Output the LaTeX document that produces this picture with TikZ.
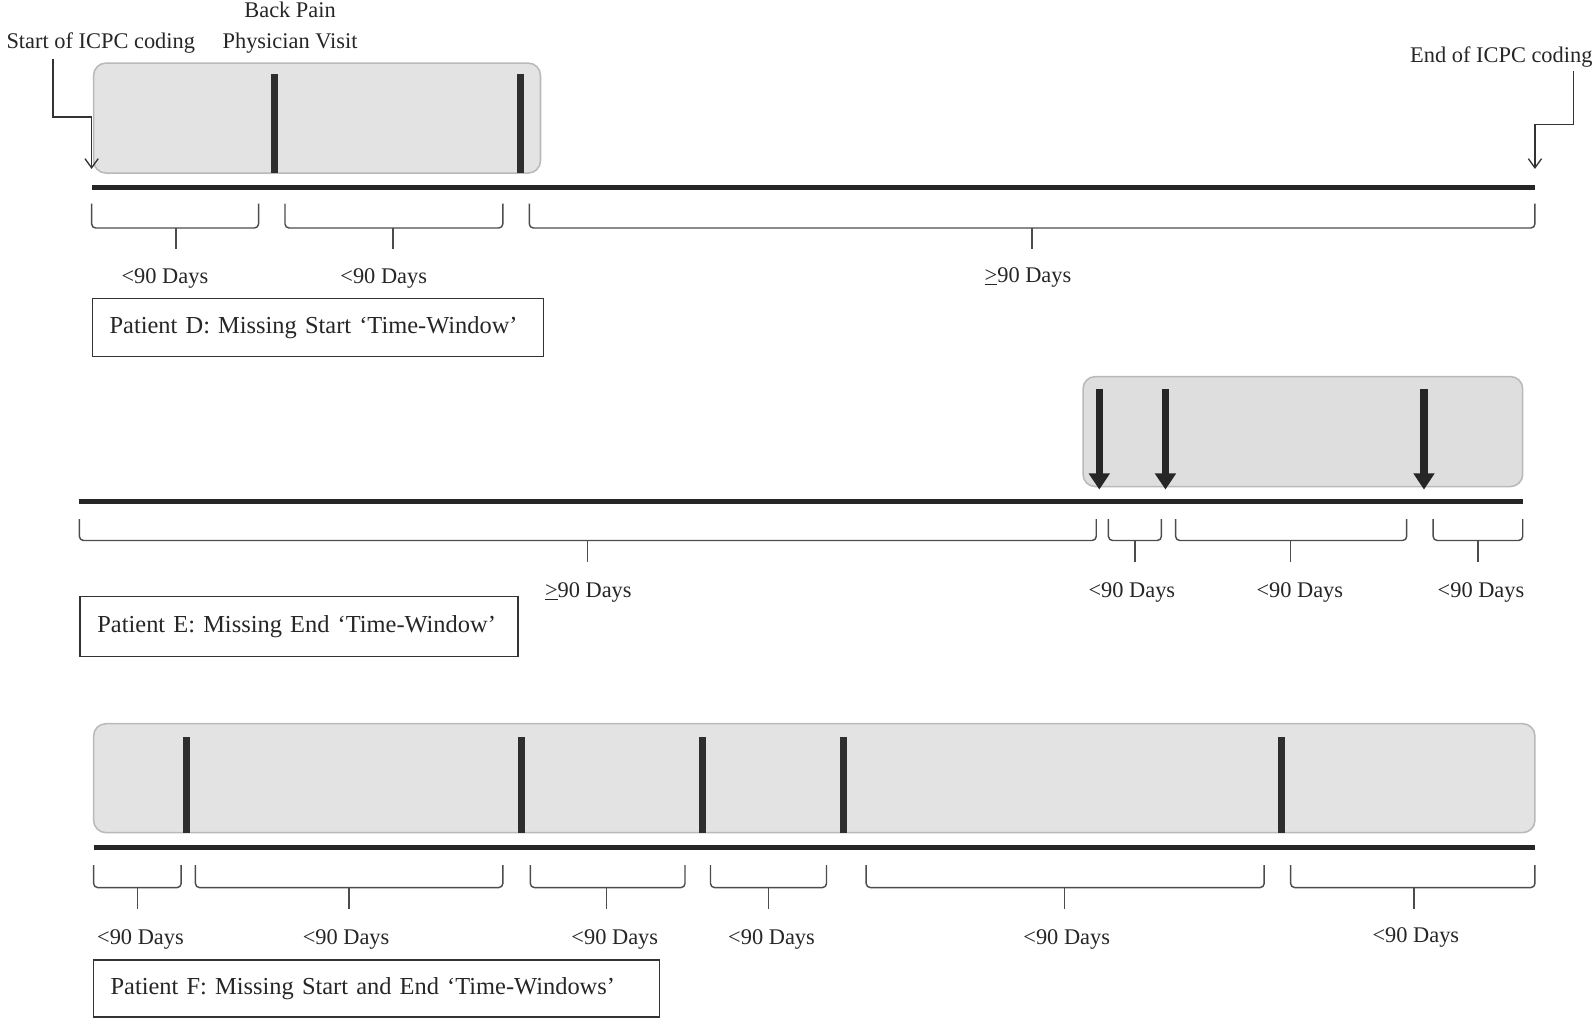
\documentclass[tikz,border=0pt]{standalone}
\usepackage{fontspec}
\setmainfont{Liberation Serif}
\usetikzlibrary{arrows.meta}
\newcommand\tlbrace[6]{% x1, x2, xc, ytop, ybot, ytip
  \draw[brace] (#1,#4) -- (#1,#5) -- (#2,#5) -- (#2,#4);
  \draw[brace] (#3,#5) -- (#3,#6);
}
\begin{document}
\begin{tikzpicture}[x=1pt,y=-1pt,
  lbl/.style={font=\fontsize{22}{31}\selectfont, inner sep=0pt, text=black!85},
  window/.style={draw=gray!55, fill=gray!22, rounded corners=12pt, line width=1.5pt},
  bar/.style={line width=7pt, draw=black!82},
  varrow/.style={line width=7pt, draw=black!85, -{Triangle[length=16pt,width=20pt]}},
  tline/.style={line width=5pt, draw=black!85},
  brace/.style={line width=1.4pt, draw=black!70, rounded corners=4pt},
  ptbox/.style={draw=black!80, line width=1.4pt, font=\fontsize{24}{28}\selectfont, text=black!85, align=left, inner ysep=0pt},
  pointer/.style={line width=1.3pt, draw=black!80, -{Straight Barb[length=9pt,width=13pt]}}
]
\useasboundingbox (0,0) rectangle (1568,1001);

% ---------------- Patient D ----------------
\node[lbl] (sIC) at (99,42) {Start of ICPC coding};
\node[lbl, align=center] (bp) at (285,27) {Back Pain\\Physician Visit};
\node[lbl] (eIC) at (1475,56) {End of ICPC coding};

\draw[window] (92,62) rectangle (531,170);
\draw[bar] (270,73) -- (270,170);
\draw[bar] (511,73) -- (511,170);

\coordinate (sa) at (52,58);
\coordinate (sb) at (90,166);
\draw[pointer] (sa) |- (90,115) -- (sb);
\coordinate (ea) at (1546,70);
\coordinate (eb) at (1508,166);
\draw[pointer] (ea) |- (1508,122) -- (eb);

\draw[tline] (90,184) -- (1508,184);

\tlbrace{90}{254}{173}{200}{224}{245}
\tlbrace{280}{494}{386}{200}{224}{245}
\tlbrace{520}{1508}{1014}{200}{224}{245}
\node[lbl] (d1) at (162,274) {<90 Days};
\node[lbl] (d2) at (377,274) {<90 Days};
\node[lbl] (d3) at (1010,273) {\underline{>}90 Days};

\node[ptbox, anchor=west, text width=409pt, inner xsep=17pt, minimum height=57pt] (pD) at (90,321.5)
  {Patient D: Missing Start ‘Time-Window’};

% ---------------- Patient E ----------------
\draw[window, fill=gray!26] (1064,370) rectangle (1496,478);
\draw[varrow] (1080,382) -- (1080,481);
\draw[varrow] (1145,382) -- (1145,481);
\draw[varrow] (1399,382) -- (1399,481);

\draw[tline] (78,493) -- (1496,493);

\tlbrace{78}{1077}{577}{510}{531}{552}
\tlbrace{1089}{1141}{1115}{510}{531}{552}
\tlbrace{1155}{1382}{1268}{510}{531}{552}
\tlbrace{1408}{1496}{1452}{510}{531}{552}
\node[lbl] (e1) at (578,582) {\underline{>}90 Days};
\node[lbl] (e2) at (1112,582) {<90 Days};
\node[lbl] (e3) at (1277,582) {<90 Days};
\node[lbl] (e4) at (1455,582) {<90 Days};

\node[ptbox, anchor=west, text width=396pt, inner xsep=17pt, minimum height=59pt] (pE) at (78,615.5)
  {Patient E: Missing End ‘Time-Window’};

% ---------------- Patient F ----------------
\draw[window] (92,711) rectangle (1508,818);
\foreach \bx in {183,512,690,829,1259}
  \draw[bar] (\bx,724) -- (\bx,818);

\draw[tline] (92,833) -- (1508,833);

\tlbrace{92}{178}{135}{850}{872}{893}
\tlbrace{192}{494}{343}{850}{872}{893}
\tlbrace{521}{673}{596}{850}{872}{893}
\tlbrace{698}{812}{755}{850}{872}{893}
\tlbrace{851}{1242}{1046}{850}{872}{893}
\tlbrace{1268}{1508}{1389}{850}{872}{893}
\node[lbl] (f1) at (138,923) {<90 Days};
\node[lbl] (f2) at (340,923) {<90 Days};
\node[lbl] (f3) at (604,923) {<90 Days};
\node[lbl] (f4) at (758,923) {<90 Days};
\node[lbl] (f5) at (1048,923) {<90 Days};
\node[lbl] (f6) at (1391,921) {<90 Days};

\node[ptbox, anchor=west, text width=522pt, inner xsep=17pt, minimum height=56pt] (pF) at (91,971)
  {Patient F: Missing Start and End ‘Time-Windows’};
\end{tikzpicture}
\end{document}
